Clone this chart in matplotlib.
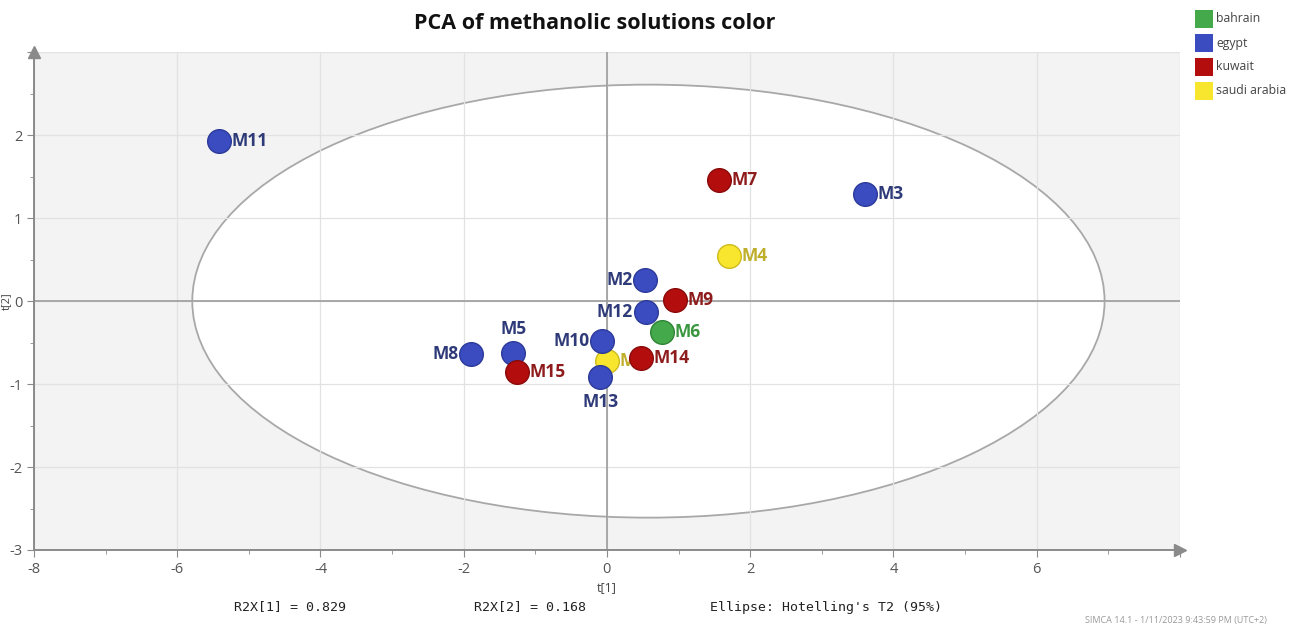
import matplotlib
matplotlib.use("Agg")
import matplotlib.pyplot as plt
from matplotlib.patches import Ellipse, Rectangle
from matplotlib.ticker import MultipleLocator, FuncFormatter

plt.rcParams["axes.unicode_minus"] = False

# Sample scores on the first two principal components
names = ["M1", "M2", "M3", "M4", "M5", "M6", "M7", "M8",
         "M9", "M10", "M11", "M12", "M13", "M14", "M15"]
t1 = [0.00, 0.535, 3.61, 1.70, -1.31, 0.765, 1.56, -1.90,
      0.95, -0.065, -5.41, 0.54, -0.09, 0.47, -1.26]
t2 = [-0.72, 0.26, 1.29, 0.54, -0.63, -0.37, 1.46, -0.64,
      0.01, -0.48, 1.93, -0.13, -0.92, -0.68, -0.86]
country = ["saudi arabia", "egypt", "egypt", "saudi arabia", "egypt", "bahrain",
           "kuwait", "egypt", "kuwait", "egypt", "egypt", "egypt", "egypt",
           "kuwait", "kuwait"]
label_side = ["right", "left", "right", "right", "above", "right", "right", "left",
              "right", "left", "right", "left", "below", "right", "right"]

countries = ["bahrain", "egypt", "kuwait", "saudi arabia"]
fill_colors = {"bahrain": "#43a94a", "egypt": "#3b4cc0", "kuwait": "#b30d0d",
               "saudi arabia": "#f7e52e"}
edge_colors = {"bahrain": "#2f8436", "egypt": "#2b3a99", "kuwait": "#8a0a0a",
               "saudi arabia": "#cdbb1e"}
text_colors = {"bahrain": "#3a963f", "egypt": "#2f3a78", "kuwait": "#8e1c1c",
               "saudi arabia": "#bfae2a"}

# Hotelling's T2 (95%) ellipse
ell_center = (0.58, 0.0)
ell_halfwidth = 6.37
ell_halfheight = 2.61

r2x = [0.829, 0.168]

fig = plt.figure(figsize=(12.99, 6.30), dpi=100)
ax = fig.add_axes([0.0262, 0.127, 0.882, 0.790])
ax.set_facecolor("#f3f3f3")
ax.set_xlim(-8, 8)
ax.set_ylim(-3, 3)

ax.add_patch(Ellipse(ell_center, 2 * ell_halfwidth, 2 * ell_halfheight,
                     facecolor="white", edgecolor="#a8a8a8", lw=1.3, zorder=0.2))

ax.set_axisbelow(True)
ax.xaxis.set_major_locator(MultipleLocator(2))
ax.xaxis.set_minor_locator(MultipleLocator(1))
ax.yaxis.set_major_locator(MultipleLocator(1))
ax.yaxis.set_minor_locator(MultipleLocator(0.5))
# the end of each axis carries an arrow instead of a number
ax.xaxis.set_major_formatter(FuncFormatter(lambda v, p: "" if v >= 8 else "%d" % round(v)))
ax.yaxis.set_major_formatter(FuncFormatter(lambda v, p: "" if v >= 3 else "%d" % round(v)))
ax.grid(True, which="major", color="#e2e2e2", lw=0.9)
ax.axhline(0, color="#9c9c9c", lw=1.2, zorder=1)
ax.axvline(0, color="#9c9c9c", lw=1.2, zorder=1)

for s in ["top", "right"]:
    ax.spines[s].set_visible(False)
for s in ["left", "bottom"]:
    ax.spines[s].set_color("#8a8a8a")
    ax.spines[s].set_linewidth(1.4)
ax.tick_params(which="major", length=5, color="#8a8a8a", labelsize=10.5,
               labelcolor="#555555", direction="out")
ax.tick_params(which="minor", length=3, color="#8a8a8a", direction="out")
for lab in ax.get_xticklabels() + ax.get_yticklabels():
    lab.set_fontfamily("Open Sans")

# axis arrows
ax.plot(1, 0, ">", transform=ax.transAxes, color="#8a8a8a", ms=8, clip_on=False)
ax.plot(0, 1, "^", transform=ax.transAxes, color="#8a8a8a", ms=8, clip_on=False)

ax.set_xlabel("t[1]", fontsize=9, color="#444444", labelpad=3, fontfamily="Open Sans")
ax.set_ylabel("t[2]", fontsize=8, color="#444444", labelpad=-2, fontfamily="Open Sans")

# points: yellow first so the others sit on top
order = sorted(range(len(names)), key=lambda i: 0 if country[i] == "saudi arabia" else 1)
offs = {"right": (9, 0, "left", "center"), "left": (-9, 0, "right", "center"),
        "above": (0, 11, "center", "bottom"), "below": (0, -11, "center", "top")}
for k, i in enumerate(order):
    c = country[i]
    z = 3 + 2 * k
    ax.scatter([t1[i]], [t2[i]], s=290, color=fill_colors[c],
               edgecolors=edge_colors[c], linewidths=1.0, zorder=z + 1)
    dx, dy, ha, va = offs[label_side[i]]
    ax.annotate(names[i], (t1[i], t2[i]), xytext=(dx, dy), textcoords="offset points",
                ha=ha, va=va, fontsize=12.5, fontweight="bold", color=text_colors[c],
                fontfamily="Open Sans", zorder=z)

fig.text(0.458, 0.963, "PCA of methanolic solutions color", ha="center", va="center",
         fontsize=15.5, fontweight="bold", color="#111111", fontfamily="Open Sans")

# legend
for j, c in enumerate(countries):
    y0 = 1 - (10 + 24 * j + 18) / 630
    fig.patches.append(Rectangle((1195 / 1299, y0), 18 / 1299, 18 / 630,
                                 transform=fig.transFigure, facecolor=fill_colors[c],
                                 edgecolor="none"))
    fig.text(1216 / 1299, y0 + 9 / 630, c, ha="left", va="center", fontsize=8.8,
             color="#444444", fontfamily="Open Sans")

mono = "DejaVu Sans Mono"
fig.text(290 / 1299, 1 - 607 / 630, "R2X[1] = %.3f" % r2x[0], ha="center", va="center",
         fontsize=9.5, color="#222222", fontfamily=mono)
fig.text(530 / 1299, 1 - 607 / 630, "R2X[2] = %.3f" % r2x[1], ha="center", va="center",
         fontsize=9.5, color="#222222", fontfamily=mono)
fig.text(826 / 1299, 1 - 607 / 630, "Ellipse: Hotelling's T2 (95%)", ha="center",
         va="center", fontsize=9.5, color="#222222", fontfamily=mono)
fig.text(1085 / 1299, 1 - 621 / 630, "SIMCA 14.1 - 1/11/2023 9:43:59 PM (UTC+2)",
         ha="left", va="center", fontsize=6.5, color="#999999", fontfamily="Open Sans")

fig.savefig("out.png", dpi=100, facecolor="white")
